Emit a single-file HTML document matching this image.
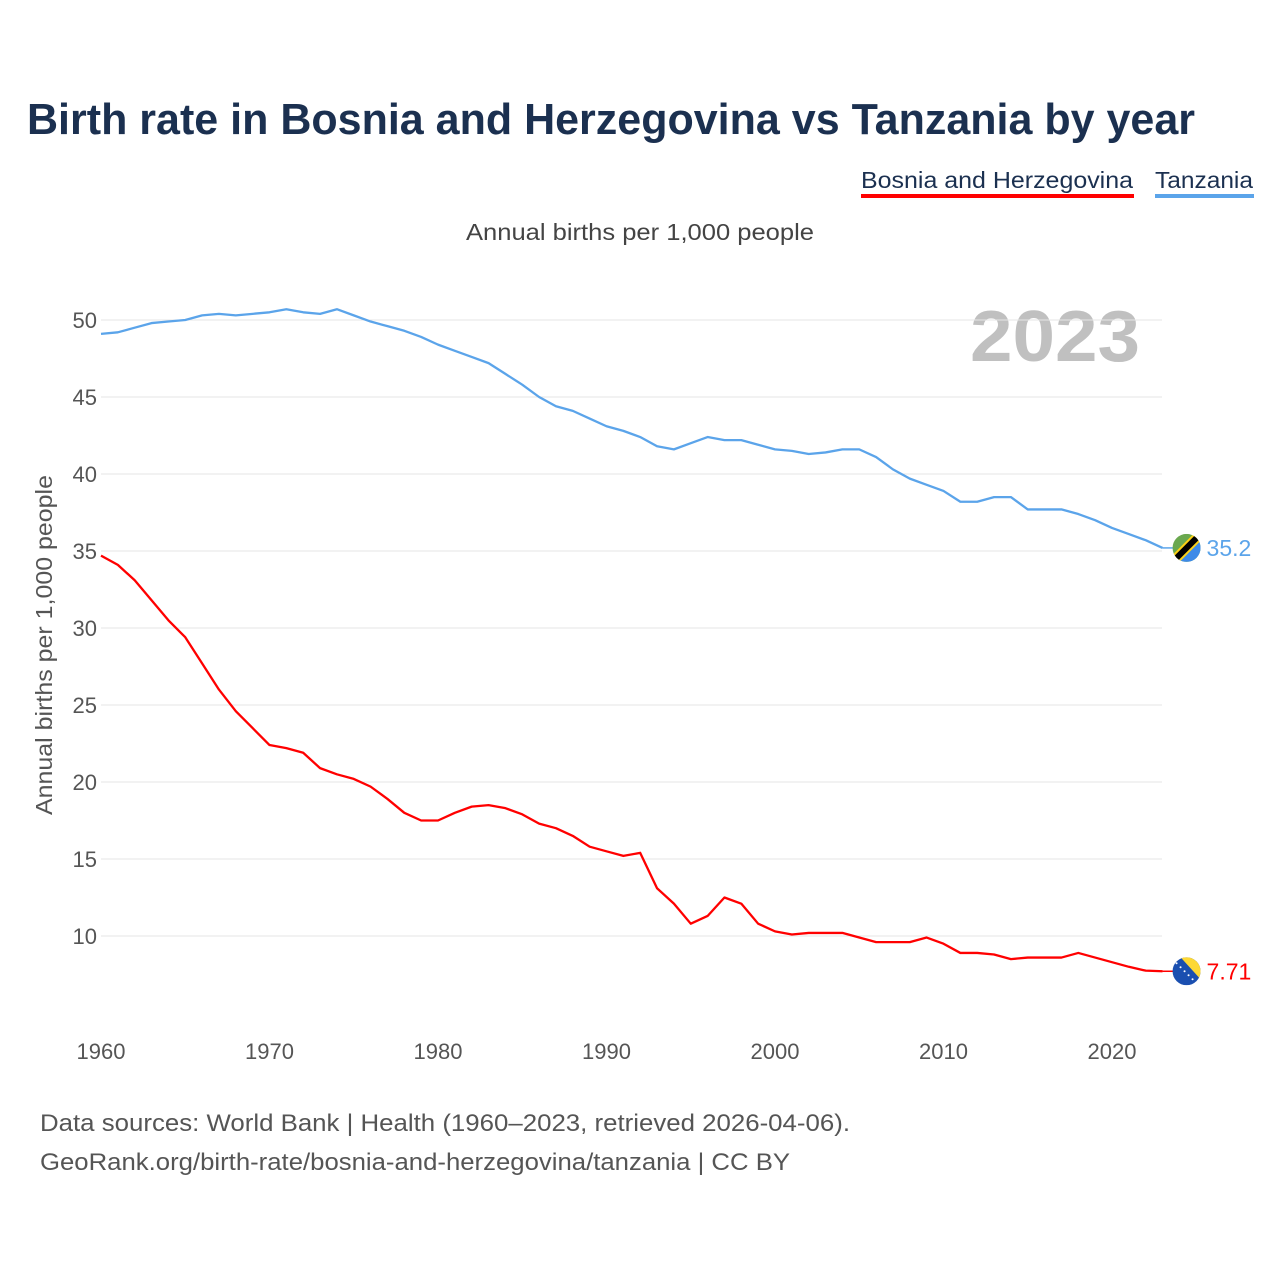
<!DOCTYPE html>
<html><head><meta charset="utf-8"><style>
body{margin:0;background:#fff;font-family:"Liberation Sans",sans-serif}
svg{display:block}
</style></head><body>
<svg id="c" width="1280" height="1280" viewBox="0 0 1280 1280">
<text x="27" y="134" font-size="44" font-weight="bold" fill="#1b3050" textLength="1168" lengthAdjust="spacingAndGlyphs">Birth rate in Bosnia and Herzegovina vs Tanzania by year</text>
<g><text x="861" y="188" font-size="23" fill="#1b3050" textLength="272" lengthAdjust="spacingAndGlyphs">Bosnia and Herzegovina</text><rect x="861" y="194" width="273" height="4" fill="#ff0000"/></g>
<g><text x="1155" y="188" font-size="23" fill="#1b3050" textLength="98" lengthAdjust="spacingAndGlyphs">Tanzania</text><rect x="1155" y="194" width="99" height="4" fill="#5ba4ea"/></g>
<text x="466" y="240" font-size="23" fill="#444" textLength="348" lengthAdjust="spacingAndGlyphs">Annual births per 1,000 people</text>
<text x="1140" y="361" font-size="72" font-weight="bold" fill="#c0c0c0" text-anchor="end" textLength="170" lengthAdjust="spacingAndGlyphs">2023</text>
<text transform="translate(52,815) rotate(-90)" font-size="23" fill="#555" textLength="340" lengthAdjust="spacingAndGlyphs">Annual births per 1,000 people</text>
<g id="grid"></g><g id="lines"></g>
<text x="40" y="1131" font-size="24" fill="#555" textLength="810" lengthAdjust="spacingAndGlyphs">Data sources: World Bank | Health (1960–2023, retrieved 2026-04-06).</text>
<text x="40" y="1170" font-size="24" fill="#555" textLength="750" lengthAdjust="spacingAndGlyphs">GeoRank.org/birth-rate/bosnia-and-herzegovina/tanzania | CC BY</text>
</svg>
<script>
const years=[];for(let y=1960;y<=2023;y++)years.push(y);
const tanzania=[49.1,49.2,49.5,49.8,49.9,50.0,50.3,50.4,50.3,50.4,50.5,50.7,50.5,50.4,50.7,50.3,49.9,49.6,49.3,48.9,48.4,48.0,47.6,47.2,46.5,45.8,45.0,44.4,44.1,43.6,43.1,42.8,42.4,41.8,41.6,42.0,42.4,42.2,42.2,41.9,41.6,41.5,41.3,41.4,41.6,41.6,41.1,40.3,39.7,39.3,38.9,38.2,38.2,38.5,38.5,37.7,37.7,37.7,37.4,37.0,36.5,36.1,35.7,35.2];
const bosnia=[34.7,34.1,33.1,31.8,30.5,29.4,27.7,26.0,24.6,23.5,22.4,22.2,21.9,20.9,20.5,20.2,19.7,18.9,18.0,17.5,17.5,18.0,18.4,18.5,18.3,17.9,17.3,17.0,16.5,15.8,15.5,15.2,15.4,13.1,12.1,10.8,11.3,12.5,12.1,10.8,10.3,10.1,10.2,10.2,10.2,9.9,9.6,9.6,9.6,9.9,9.5,8.9,8.9,8.8,8.5,8.6,8.6,8.6,8.9,8.6,8.3,8.0,7.75,7.71];
const yTicks=[10,15,20,25,30,35,40,45,50];
const xTicks=[1960,1970,1980,1990,2000,2010,2020];
const X=v=>101+(v-1960)*(1112-101)/60;
const Y=v=>936-(v-10)*(936-320)/40;
const NS='http://www.w3.org/2000/svg';
function mk(t,a,p){const e=document.createElementNS(NS,t);for(const k in a)e.setAttribute(k,a[k]);p.appendChild(e);return e;}
const g=document.getElementById('grid'),L=document.getElementById('lines');
yTicks.forEach(v=>{
 const l=mk('line',{x1:101,x2:1162,y1:Y(v),y2:Y(v),stroke:'#e6e6e6','stroke-width':1},g);
 
 
 const t=mk('text',{x:97,y:Y(v)+8,'font-size':22,fill:'#555','text-anchor':'end'},g);t.textContent=v;
 
 
});
xTicks.forEach(v=>{
 const t=mk('text',{x:X(v),y:1059,'font-size':22,fill:'#555','text-anchor':'middle'},g);t.textContent=v;
 
 
});
function line(d,c,name){
 const p=mk('polyline',{points:d.map((v,i)=>X(years[i])+','+Y(v)).join(' '),fill:'none',stroke:c,'stroke-width':2.3,'stroke-linejoin':'round'},L);
 
 
}
line(tanzania,'#5ba4ea','tanzania-line');
line(bosnia,'#ff0000','bosnia-line');
function end(d,c,name,lab,flag){
 const v=d[d.length-1],x=X(years[years.length-1]),y=Y(v);
 mk('line',{x1:x,x2:x+14,y1:y,y2:y,stroke:c,'stroke-width':1.5},L);
 const gg=mk('g',{},L);
 
 
 const cp=mk('clipPath',{id:'cp'+name},gg);mk('circle',{cx:x+24,cy:y,r:14},cp);
 const inner=mk('g',{'clip-path':'url(#cp'+name+')'},gg);
 if(flag==='tz'){
  mk('rect',{x:x+10,y:y-14,width:28,height:28,fill:'#6aa84f'},inner);
  mk('polygon',{points:`${x+38},${y-14} ${x+38},${y+14} ${x+10},${y+14}`,fill:'#3d8ae8'},inner);
  mk('line',{x1:x+10,y1:y+14,x2:x+38,y2:y-14,stroke:'#fcd116','stroke-width':10},inner);
  mk('line',{x1:x+10,y1:y+14,x2:x+38,y2:y-14,stroke:'#000','stroke-width':6},inner);
 }else{
  mk('rect',{x:x+10,y:y-14,width:28,height:28,fill:'#1a4fb0'},inner);
  mk('polygon',{points:`${x+18},${y-14} ${x+38},${y-14} ${x+38},${y+8}`,fill:'#fdd835'},inner);
  for(let k=0;k<5;k++)mk('circle',{cx:x+14+k*4,cy:y-8+k*4,r:1,fill:'#fff'},inner);
 }
 const t=mk('text',{x:x+44,y:y+8,'font-size':23,fill:c},L);t.textContent=lab;
 
 
}
end(tanzania,'#5ba4ea','tanzania','35.2','tz');
end(bosnia,'#ff0000','bosnia','7.71','ba');
</script>
</body></html>
